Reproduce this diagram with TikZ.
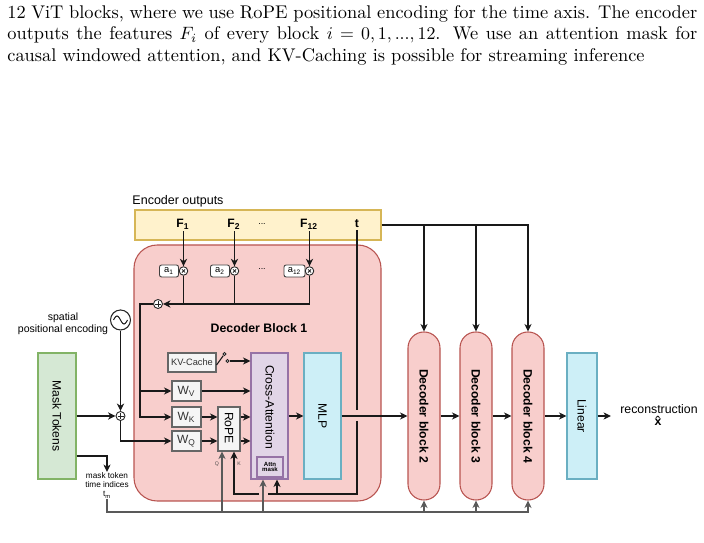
\documentclass[tikz,border=0pt]{standalone}
\usepackage{fontspec}
\newfontfamily\dio{Liberation Sans}
\usetikzlibrary{arrows.meta,calc}
\newdimen\px \px=0.56pt
\definecolor{yellowF}{HTML}{FFF2CC}\definecolor{yellowD}{HTML}{D6B656}
\definecolor{redF}{HTML}{F8CECC}\definecolor{redD}{HTML}{B85450}
\definecolor{greenF}{HTML}{D5E8D4}\definecolor{greenD}{HTML}{82B366}
\definecolor{grayF}{HTML}{F5F5F5}\definecolor{grayD}{HTML}{666666}
\definecolor{purpF}{HTML}{E1D5E7}\definecolor{purpD}{HTML}{9673A6}
\definecolor{cyanF}{HTML}{CDEFF7}\definecolor{cyanD}{HTML}{6AAFC2}
\newcommand\fsz[1]{\dio\fontsize{#1}{#1}\selectfont}
\begin{document}
\begin{tikzpicture}[x=0.56pt,y=-0.56pt,
  >={Stealth[length=4.2pt,width=4pt,inset=1.3pt]},
  ln/.style={line width=0.6pt, draw=black!90},
  gl/.style={line width=0.6pt, draw=black!65},
  sz/.style 2 args={minimum width=#1*\px, minimum height=#2*\px, inner sep=0pt},
  gbox/.style={draw=grayD, fill=grayF, line width=0.6pt, text=black!80},
  flab/.style={font=\fsz{6.8}\bfseries, inner sep=1pt},
  abox/.style={draw=black!75, fill=white, rounded corners=1.2pt, line width=0.5pt, font=\fsz{5.2}},
  otimes/.style={circle, draw=black!85, fill=white, line width=0.5pt, minimum size=8.5*\px, inner sep=0pt,
     path picture={\draw[line width=0.4pt] ([shift={(-1.6,-1.6)}]path picture bounding box.center) -- ++(3.2,3.2)
                                           ([shift={(-1.6,1.6)}]path picture bounding box.center) -- ++(3.2,-3.2);}},
  oplus/.style={circle, draw=black!85, fill=white, line width=0.5pt, minimum size=9*\px, inner sep=0pt,
     path picture={\draw[line width=0.45pt] ([shift={(-3,0)}]path picture bounding box.center) -- ++(6,0)
                                           ([shift={(0,-3)}]path picture bounding box.center) -- ++(0,6);}},
  sw/.style={circle, draw=black!85, fill=white, line width=0.5pt, minimum size=3.2*\px, inner sep=0pt},
  vlab/.style={rotate=-90, font=\fsz{6.8}},
  vlabb/.style={rotate=-90, font=\fsz{6.8}\bfseries},
]
\useasboundingbox (0,0) rectangle (704,543);

% caption
\node[anchor=north west, inner sep=0pt] (cap) at (7,3)
 {\parbox[t]{386.4pt}{\fontsize{10.3}{12.05}\selectfont\strut 12 ViT blocks, where we use RoPE positional encoding for the time axis. The encoder outputs the features $F_i$ of every block $i=0,1,...,12$. We use an attention mask for causal windowed attention, and KV-Caching is possible for streaming inference}};

% encoder outputs
\node[font=\fsz{7}] (enclab) at (178,201) {Encoder outputs};
\node[draw=yellowD, fill=yellowF, line width=0.6pt, sz={246}{30}] (enc) at (258,225) {};
\node[flab] (F1) at (183,224) {F\textsubscript{1}};
\node[flab] (F2) at (234,224) {F\textsubscript{2}};
\node[font=\fsz{5}] (fd) at (262,224) {...};
\node[flab] (F12) at (309,224) {F\textsubscript{12}};
\node[flab] (tlab) at (357,224) {t};

% decoder block 1
\node[draw=redD, fill=redF, line width=0.6pt, sz={247}{256}, rounded corners=13pt] (dec1) at (257.5,373) {};
\node[font=\fsz{6.9}\bfseries] (dec1lab) at (259,328) {Decoder Block 1};

% weights a_i
\node[abox, sz={19}{12}] (a1) at (169,271) {a\textsubscript{1}};
\node[otimes] (ox1) at (183.5,271) {};
\node[abox, sz={19}{12}] (a2) at (220,271) {a\textsubscript{2}};
\node[otimes] (ox2) at (234.5,271) {};
\node[font=\fsz{5}] (ad) at (262,269) {...};
\node[abox, sz={21}{12}] (a12) at (294.5,271) {a\textsubscript{12}};
\node[otimes] (ox12) at (309.5,271) {};
\node[oplus] (plusB) at (158,304) {};

% inner boxes
\node[gbox, sz={48}{19}, font=\fsz{5.2}] (kv) at (192,362.5) {KV-Cache};
\node[gbox, sz={29}{20}, font=\fsz{6.7}] (Wv) at (186.5,391) {W\textsubscript{V}};
\node[gbox, sz={29}{20}, font=\fsz{6.7}] (Wk) at (186.5,417) {W\textsubscript{K}};
\node[gbox, sz={29}{20}, font=\fsz{6.7}] (Wq) at (186.5,441) {W\textsubscript{Q}};
\node[gbox, sz={22}{44}] (rope) at (229,429) {};
\node[vlab] (ropelab) at (229,428) {RoPE};
\node[draw=purpD, fill=purpF, line width=0.6pt, sz={37}{126}] (ca) at (269.5,416) {};
\node[vlab] (calab) at (270,407) {Cross-Attention};
\node[draw=purpD, fill=purpF, line width=0.6pt, sz={26}{20}, font=\fsz{3.4}\bfseries, align=center] (attn) at (270,467) {Attn\\[-0.3pt]mask};
\node[draw=cyanD, fill=cyanF, line width=0.6pt, sz={37}{126}] (mlp) at (322.5,416) {};
\node[vlab] (mlplab) at (322.5,416) {MLP};
\node[font=\fsz{2.9}, text=black!70] (qlab) at (217,464) {Q};
\node[font=\fsz{2.9}, text=black!70] (klab) at (239,464) {K};
\node[sw] (sw1) at (224.5,354) {};
\node[sw] (sw2) at (227.5,361) {};

% left side
\node[draw=greenD, fill=greenF, line width=0.6pt, sz={38}{126}] (mask) at (57,416) {};
\node[vlab] (masklab) at (57,416) {Mask Tokens};
\node[circle, draw=black!85, line width=0.6pt, minimum size=20*\px, inner sep=0pt] (sine) at (120.5,320) {};
\draw[line width=0.5pt, shift={(sine.center)}] plot[smooth, domain=-7:7, samples=25] (\x,{-4*sin((\x+7)/14*360)});
\node[font=\fsz{5.9}, align=center] (splab) at (63,323.5) {spatial\\[0.7pt]positional encoding};
\node[oplus] (plusA) at (120.5,416) {};
\node[font=\fsz{4.6}, align=center, anchor=north, inner sep=0pt] (tm) at (107,472) {mask token\\[0.4pt]time indices\\[0.6pt]t\textsubscript{m}};

% decoder blocks 2-4, linear
\foreach \n/\xx in {2/424,3/476,4/528}{
  \node[draw=redD, fill=redF, line width=0.6pt, sz={32}{168}, rounded corners=8.9pt] (db\n) at (\xx,416) {};
  \node[vlabb] (db\n lab) at (\xx,416) {Decoder block \n};
}
\node[draw=cyanD, fill=cyanF, line width=0.6pt, sz={30}{126}] (lin) at (582,416) {};
\node[vlab] (linlab) at (582,416) {Linear};
\node[font=\fsz{6.9}] (rec) at (659,409) {reconstruction};
\node[font=\fsz{6.9}\bfseries] (xh) at (658,421) {\^{x}};

% ---- connectors ----
\draw[ln,->] (ox1 |- F1.south) -- (ox1);
\draw[ln,->] (ox2 |- F2.south) -- (ox2);
\draw[ln,->] (ox12 |- F12.south) -- (ox12);
\draw[ln] (ox1) -- (ox1 |- plusB);
\draw[ln] (ox2) -- (ox2 |- plusB);
\draw[ln,->] (ox12) |- (plusB);
\coordinate (cL) at (140,304);
\draw[ln,->] (plusB) -- (cL) |- (Wk);
\draw[ln,->] (cL |- Wv) -- (Wv);

\draw[ln,->] (sine) -- (plusA);
\draw[ln,->] (mask) -- (plusA);
\draw[ln,->] (plusA) |- (Wq);
\draw[ln,->] ($(mask.east)+(0,40)$) -| (tm.north);

\draw[ln,->] (Wk) -- (rope.west |- Wk);
\draw[ln,->] (Wq) -- (rope.west |- Wq);
\draw[ln,->] (rope.east |- Wk) -- (ca.west |- Wk);
\draw[ln,->] (rope.east |- Wq) -- (ca.west |- Wq);
\draw[ln,->] (Wv) -- (ca.west |- Wv);
\draw[ln] ($(kv.east)+(0,2.5)$) -- (sw1);
\draw[ln,->] (sw2) -- (ca.west |- sw2);

\draw[ln,->] (ca) -- (mlp);

% t line
\coordinate (tA) at (357,410);
\coordinate (tB) at (357,421);
\coordinate (tC) at (357,494);
\coordinate (tD) at (268,494);
\coordinate (tE) at (259,494);
\coordinate (kx) at ([xshift=5*\px]rope.south);
\coordinate (qx) at ([xshift=-7*\px]rope.south);
\coordinate (ax) at ([xshift=-6.5*\px]ca.south);
\coordinate (mx) at ([xshift=7.5*\px]ca.south);
\draw[ln] (tlab.south) -- (tA);
\draw[ln] (tB) -- (tC) -- (tD);
\draw[ln,->] (tE) -- (tE -| kx) -- (kx);
\draw[ln,->] (tC -| mx) -- (mx);

\draw[ln,->] (mlp) -- (db2);
\draw[ln,->] (db2) -- (db3);
\draw[ln,->] (db3) -- (db4);
\draw[ln,->] (db4) -- (lin);
\draw[ln,->] (lin) -- ([xshift=-3*\px]rec.west |- lin);

% t to the other decoder blocks
\draw[ln,->] (enc.east) -| (db4.north);
\draw[ln,->] (enc.east -| db2) -- (db2.north);
\draw[ln,->] (enc.east -| db3) -- (db3.north);

% bottom time-index line
\coordinate (bl) at (107,512);
\draw[gl,->] (tm.south) -- (bl) -| (db4.south);
\draw[gl,->] (bl -| db2) -- (db2.south);
\draw[gl,->] (bl -| db3) -- (db3.south);
\draw[gl,->] (bl -| qx) -- (qx);
\draw[gl,->] (bl -| ax) -- (ax);
\end{tikzpicture}
\end{document}
